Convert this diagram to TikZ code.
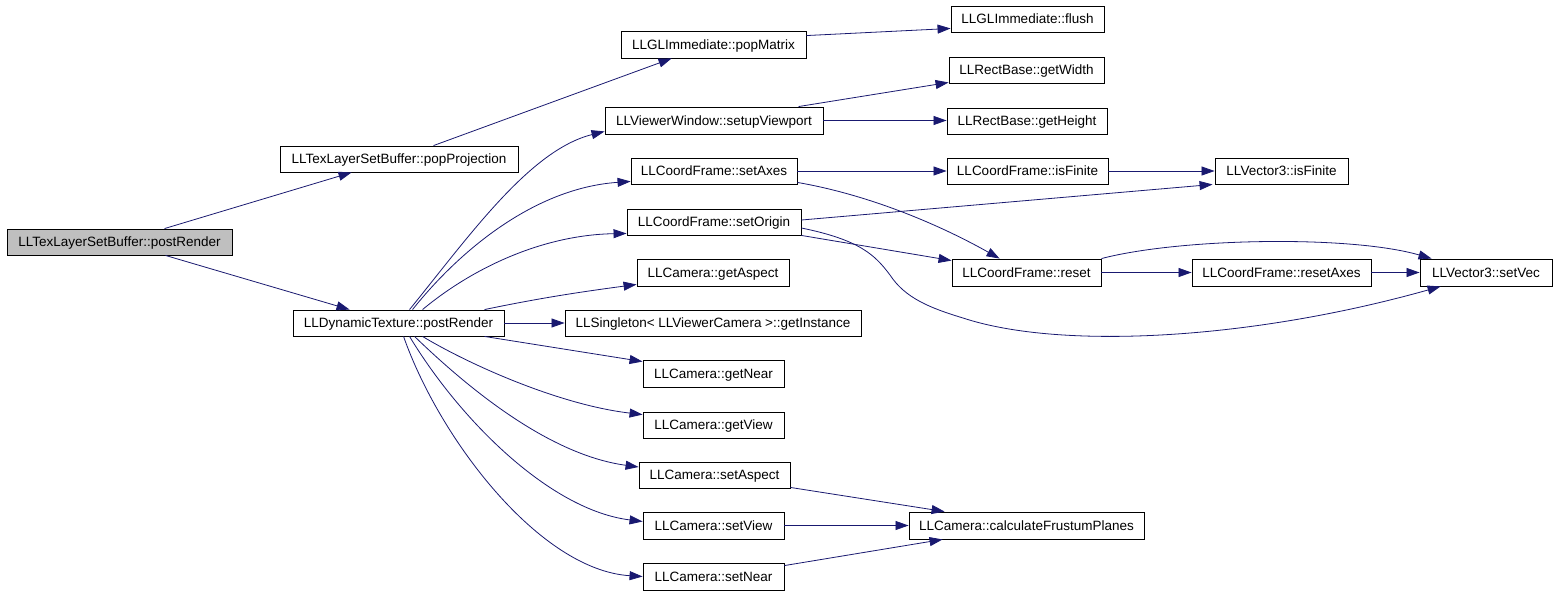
\documentclass[tikz,border=0pt]{standalone}
\usepackage{fontspec}
\setmainfont{Liberation Sans}
\usetikzlibrary{arrows.meta,calc}
\definecolor{navyc}{HTML}{191970}
\definecolor{rootgray}{HTML}{BFBFBF}
\tikzset{
  box/.style={draw=black, line width=0.9pt, inner sep=0pt, text height=9.6pt, text depth=0pt,
    font=\fontsize{13.5}{15}\selectfont},
  conn/.style={draw=navyc, line width=0.8pt, -{Triangle[length=13pt,width=9pt]}}
}
\begin{document}
\begin{tikzpicture}[x=1pt,y=-1pt]
\useasboundingbox[fill=white] (0,0) rectangle (1557,595);
% nodes
\node[box, fill=rootgray, minimum width=225pt, minimum height=26pt] (root) at (119.5,242) {LLTexLayerSetBuffer::postRender};
\node[box, minimum width=238pt, minimum height=26pt] (popProj) at (399,159) {LLTexLayerSetBuffer::popProjection};
\node[box, minimum width=211pt, minimum height=26pt] (dyn) at (398.5,323) {LLDynamicTexture::postRender};
\node[box, minimum width=185pt, minimum height=27pt] (popMatrix) at (713.5,44.5) {LLGLImmediate::popMatrix};
\node[box, minimum width=153pt, minimum height=26pt] (flush) at (1027.5,19) {LLGLImmediate::flush};
\node[box, minimum width=155pt, minimum height=26pt] (getWidth) at (1026.5,70) {LLRectBase::getWidth};
\node[box, minimum width=218pt, minimum height=27pt] (setupVP) at (714,120.5) {LLViewerWindow::setupViewport};
\node[box, minimum width=160pt, minimum height=26pt] (getHeight) at (1027,121) {LLRectBase::getHeight};
\node[box, minimum width=166pt, minimum height=26pt] (setAxes) at (714,171) {LLCoordFrame::setAxes};
\node[box, minimum width=161pt, minimum height=26pt] (cfIsFinite) at (1027.5,171) {LLCoordFrame::isFinite};
\node[box, minimum width=133pt, minimum height=26pt] (v3IsFinite) at (1281.5,171) {LLVector3::isFinite};
\node[box, minimum width=174pt, minimum height=26pt] (setOrigin) at (714,222) {LLCoordFrame::setOrigin};
\node[box, minimum width=152pt, minimum height=27pt] (getAspect) at (713,272.5) {LLCamera::getAspect};
\node[box, minimum width=149pt, minimum height=27pt] (reset) at (1026.5,272.5) {LLCoordFrame::reset};
\node[box, minimum width=179pt, minimum height=27pt] (resetAxes) at (1281.5,272.5) {LLCoordFrame::resetAxes};
\node[box, minimum width=132pt, minimum height=27pt] (setVec) at (1486,272.5) {LLVector3::setVec};
\node[box, minimum width=296pt, minimum height=26pt] (getInstance) at (713,323) {LLSingleton< LLViewerCamera >::getInstance};
\node[box, minimum width=141pt, minimum height=27pt] (getNear) at (713.5,373.5) {LLCamera::getNear};
\node[box, minimum width=141pt, minimum height=26pt] (getView) at (713.5,425) {LLCamera::getView};
\node[box, minimum width=151pt, minimum height=26pt] (setAspect) at (714.5,475) {LLCamera::setAspect};
\node[box, minimum width=141pt, minimum height=27pt] (setView) at (713.5,525.5) {LLCamera::setView};
\node[box, minimum width=141pt, minimum height=27pt] (setNear) at (713.5,576.5) {LLCamera::setNear};
\node[box, minimum width=235pt, minimum height=27pt] (calcFP) at (1026.5,525.5) {LLCamera::calculateFrustumPlanes};
% connectors
\draw[conn] ($(root.north west)+(158,0)$) -- ($(popProj.south west)+(72,0)$);
\draw[conn] ($(root.south west)+(159,0)$) -- ($(dyn.north west)+(57,0)$);
\draw[conn] ($(popProj.north west)+(154,0)$) -- ($(popMatrix.south west)+(51,0)$);
\draw[conn] ($(popMatrix.north east)+(0,5)$) -- ($(flush.south west)+(0,-4)$);
\draw[conn] ($(setupVP.north west)+(194,0)$) -- ($(getWidth.south west)+(0,-1)$);
\draw[conn] (setupVP.east) -- (setupVP.east -| getHeight.west);
\draw[conn] (setAxes.east) -- (setAxes.east -| cfIsFinite.west);
\draw[conn] ($(setAxes.south east)+(0,-2)$) .. controls (870,195) and (940,225) .. ($(reset.north west)+(48,0)$);
\draw[conn] ($(setOrigin.east)+(0,-2)$) -- ($(v3IsFinite.south west)+(-2,0)$);
\draw[conn] (setOrigin.south east) -- ($(reset.north west)+(0,2)$);
\draw[conn] ($(setOrigin.east)+(0,6)$) .. controls (860,240) and (875,255) .. (890,275)
  .. controls (905,298) and (930,308) .. (963,318)
  .. controls (1060,350) and (1250,340) .. ($(setVec.south west)+(21,0)$);
\draw[conn] (reset.north east) .. controls (1180,238) and (1350,235) .. ($(setVec.north west)+(12,0)$);
\draw[conn] (reset.east) -- (reset.east -| resetAxes.west);
\draw[conn] (resetAxes.east) -- (resetAxes.east -| setVec.west);
\draw[conn] (cfIsFinite.east) -- (cfIsFinite.east -| v3IsFinite.west);
\draw[conn] ($(dyn.north west)+(117,0)$) .. controls (470,235) and (530,150) .. ($(setupVP.south west)+(0,-3)$);
\draw[conn] ($(dyn.north west)+(120,0)$) .. controls (460,250) and (535,188) .. ($(setAxes.south west)+(0,-3)$);
\draw[conn] ($(dyn.north west)+(130,0)$) .. controls (470,270) and (540,235) .. ($(setOrigin.south west)+(0,-2)$);
\draw[conn] ($(dyn.north west)+(192,0)$) .. controls (540,298) and (580,292) .. ($(getAspect.south west)+(0,-2)$);
\draw[conn] (dyn.east) -- (dyn.east -| getInstance.west);
\draw[conn] ($(dyn.south west)+(192,0)$) -- ($(getNear.north west)+(0,2)$);
\draw[conn] ($(dyn.south west)+(130,0)$) .. controls (470,365) and (560,405) .. ($(getView.north west)+(0,3)$);
\draw[conn] ($(dyn.south west)+(122,0)$) .. controls (470,390) and (550,455) .. ($(setAspect.west)+(0,-8)$);
\draw[conn] ($(dyn.south west)+(117,0)$) .. controls (460,420) and (550,510) .. ($(setView.west)+(0,-4)$);
\draw[conn] ($(dyn.south west)+(111,0)$) .. controls (440,440) and (540,570) .. (setNear.west);
\draw[conn] ($(setAspect.south east)+(0,-1)$) -- ($(calcFP.north west)+(36,0)$);
\draw[conn] (setView.east) -- (setView.east -| calcFP.west);
\draw[conn] ($(setNear.north east)+(0,3)$) -- ($(calcFP.south west)+(34,0)$);
\end{tikzpicture}
\end{document}
